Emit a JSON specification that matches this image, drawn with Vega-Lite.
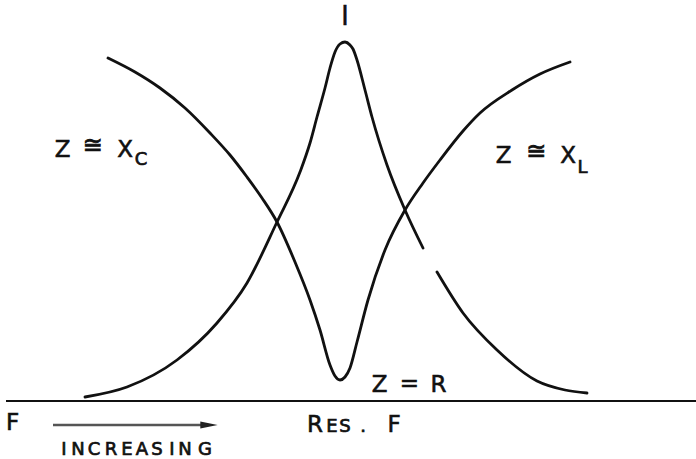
{
  "$schema": "https://vega.github.io/schema/vega-lite/v6.json",
  "width": 696,
  "height": 459,
  "padding": 0,
  "autosize": {"type": "none"},
  "background": "white",
  "config": {"view": {"stroke": null}},
  "datasets": {
    "curves": [
      {"curve": "Z", "f": 108, "a": 343}, {"curve": "Z", "f": 135, "a": 329}, {"curve": "Z", "f": 160, "a": 313},
      {"curve": "Z", "f": 185, "a": 293}, {"curve": "Z", "f": 210, "a": 268}, {"curve": "Z", "f": 230, "a": 246},
      {"curve": "Z", "f": 247, "a": 224}, {"curve": "Z", "f": 262, "a": 203}, {"curve": "Z", "f": 277, "a": 179},
      {"curve": "Z", "f": 295, "a": 139}, {"curve": "Z", "f": 310, "a": 101},
      {"curve": "Z", "f": 320, "a": 71}, {"curve": "Z", "f": 330, "a": 36}, {"curve": "Z", "f": 335, "a": 25},
      {"curve": "Z", "f": 340, "a": 21}, {"curve": "Z", "f": 345, "a": 24}, {"curve": "Z", "f": 350, "a": 33},
      {"curve": "Z", "f": 357, "a": 59}, {"curve": "Z", "f": 368, "a": 101}, {"curve": "Z", "f": 385, "a": 151},
      {"curve": "Z", "f": 405, "a": 191}, {"curve": "Z", "f": 423, "a": 218}, {"curve": "Z", "f": 440, "a": 241},
      {"curve": "Z", "f": 463, "a": 270}, {"curve": "Z", "f": 480, "a": 288}, {"curve": "Z", "f": 512, "a": 311},
      {"curve": "Z", "f": 540, "a": 327}, {"curve": "Z", "f": 570, "a": 339},
      {"curve": "I1", "f": 85, "a": 4}, {"curve": "I1", "f": 127, "a": 14}, {"curve": "I1", "f": 177, "a": 41},
      {"curve": "I1", "f": 217, "a": 78}, {"curve": "I1", "f": 247, "a": 118}, {"curve": "I1", "f": 277, "a": 179},
      {"curve": "I1", "f": 300, "a": 229}, {"curve": "I1", "f": 310, "a": 258}, {"curve": "I1", "f": 317, "a": 284},
      {"curve": "I1", "f": 325, "a": 313}, {"curve": "I1", "f": 330, "a": 333}, {"curve": "I1", "f": 335, "a": 349},
      {"curve": "I1", "f": 340, "a": 357}, {"curve": "I1", "f": 345, "a": 359}, {"curve": "I1", "f": 350, "a": 356},
      {"curve": "I1", "f": 353, "a": 352}, {"curve": "I1", "f": 357, "a": 341}, {"curve": "I1", "f": 365, "a": 311},
      {"curve": "I1", "f": 372, "a": 284}, {"curve": "I1", "f": 387, "a": 236}, {"curve": "I1", "f": 405, "a": 191},
      {"curve": "I1", "f": 423, "a": 153},
      {"curve": "I2", "f": 437, "a": 129}, {"curve": "I2", "f": 463, "a": 88}, {"curve": "I2", "f": 497, "a": 51},
      {"curve": "I2", "f": 537, "a": 20}, {"curve": "I2", "f": 565, "a": 11}, {"curve": "I2", "f": 587, "a": 8}
    ],
    "lines": [
      {"kind": "base", "f": 6, "f2": 696, "a": 0}
    ],
    "arrow": [
      {"kind": "shaft", "f": 53, "f2": 203, "a": -24}
    ],
    "head": [
      {"f": 209, "a": -24}
    ],
    "mainText": [
      {"t": "Z", "f": 62.5, "a": 244}, {"t": "X", "f": 125, "a": 244},
      {"t": "Z", "f": 503.5, "a": 238}, {"t": "X", "f": 568, "a": 238},
      {"t": "Z", "f": 379.5, "a": 9}, {"t": "=", "f": 409.5, "a": 10}, {"t": "R", "f": 438.5, "a": 9},
      {"t": "F", "f": 12.5, "a": -29},
      {"t": "R", "f": 315, "a": -31}, {"t": "F", "f": 394, "a": -31}
    ],
    "approxText": [
      {"t": "≅", "f": 92.5, "a": 248}, {"t": "≅", "f": 536, "a": 242}
    ],
    "bigText": [
      {"t": "I", "f": 345, "a": 376}
    ],
    "smallText": [
      {"t": "C", "f": 141, "a": 236}, {"t": "L", "f": 582.5, "a": 228},
      {"t": "E", "f": 332, "a": -31}, {"t": "S", "f": 345, "a": -31}, {"t": ".", "f": 363, "a": -31},
      {"t": "I", "f": 64, "a": -54}, {"t": "N", "f": 78, "a": -54}, {"t": "C", "f": 94, "a": -54},
      {"t": "R", "f": 111, "a": -54}, {"t": "E", "f": 127, "a": -54}, {"t": "A", "f": 142, "a": -54},
      {"t": "S", "f": 157, "a": -54}, {"t": "I", "f": 172, "a": -54}, {"t": "N", "f": 185, "a": -54},
      {"t": "G", "f": 205, "a": -54}
    ]
  },
  "encoding": {
    "x": {"field": "f", "type": "quantitative", "scale": {"domain": [0, 696], "nice": false, "zero": false}, "axis": null},
    "y": {"field": "a", "type": "quantitative", "scale": {"domain": [-58, 401], "nice": false, "zero": false}, "axis": null}
  },
  "layer": [
    {
      "data": {"name": "lines"},
      "mark": {"type": "rule", "stroke": "#111111", "strokeWidth": 2},
      "encoding": {"x2": {"field": "f2"}}
    },
    {
      "data": {"name": "arrow"},
      "mark": {"type": "rule", "stroke": "#555555", "strokeWidth": 2.5},
      "encoding": {"x2": {"field": "f2"}}
    },
    {
      "data": {"name": "head"},
      "mark": {"type": "point", "shape": "M-1,-0.4L1,0L-1,0.4Z", "filled": true, "color": "#222222", "size": 300, "opacity": 1}
    },
    {
      "data": {"name": "curves"},
      "mark": {"type": "line", "interpolate": "monotone", "stroke": "#111111", "strokeWidth": 2.8, "strokeCap": "round"},
      "encoding": {"detail": {"field": "curve"}}
    },
    {
      "data": {"name": "mainText"},
      "mark": {"type": "text", "font": "DejaVu Sans", "fontSize": 23, "align": "center", "baseline": "alphabetic", "color": "#111111", "stroke": "#111111", "strokeWidth": 0.6},
      "encoding": {"text": {"field": "t"}}
    },
    {
      "data": {"name": "approxText"},
      "mark": {"type": "text", "font": "DejaVu Sans", "fontSize": 24, "align": "center", "baseline": "alphabetic", "color": "#111111", "stroke": "#111111", "strokeWidth": 0.8},
      "encoding": {"text": {"field": "t"}}
    },
    {
      "data": {"name": "bigText"},
      "mark": {"type": "text", "font": "DejaVu Sans", "fontSize": 27, "align": "center", "baseline": "alphabetic", "color": "#111111", "stroke": "#111111", "strokeWidth": 0.4},
      "encoding": {"text": {"field": "t"}}
    },
    {
      "data": {"name": "smallText"},
      "mark": {"type": "text", "font": "DejaVu Sans", "fontSize": 18, "align": "center", "baseline": "alphabetic", "color": "#111111", "stroke": "#111111", "strokeWidth": 0.7},
      "encoding": {"text": {"field": "t"}}
    }
  ]
}
